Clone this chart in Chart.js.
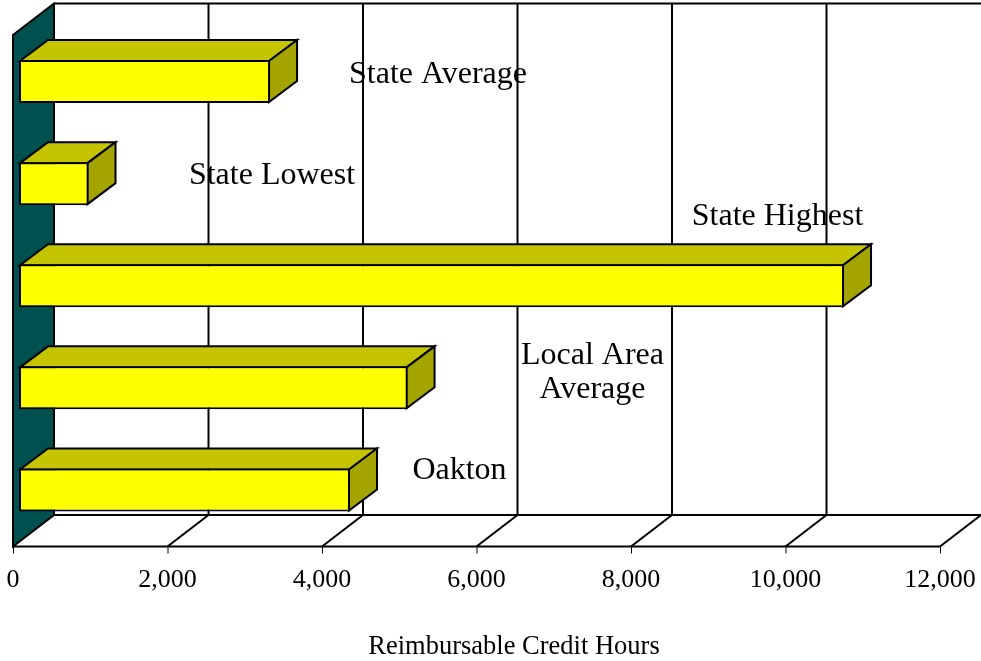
<!DOCTYPE html>
<html>
<head>
<meta charset="utf-8">
<title>Reimbursable Credit Hours</title>
<script src="https://cdn.jsdelivr.net/npm/chart.js@4"></script>
<style>
  html, body { margin: 0; padding: 0; background: #fff; overflow: hidden; }
  canvas { display: block; }
</style>
</head>
<body>
<canvas id="chart" width="981" height="661"></canvas>
<script>
// Datos, de arriba hacia abajo
var categories = ["State Average", "State Lowest", "State Highest", ["Local Area", "Average"], "Oakton"];
var creditHours = [3250, 900, 10680, 5030, 4285];
var axisMax = 12000;
var axisStep = 2000;
var axisTitle = "Reimbursable Credit Hours";

var fontName = '"Liberation Serif", "Times New Roman", serif';

// Donde va el nombre de cada barra: centro en x, linea base en y
var calloutSpots = [[438, 83], [272, 184], [777.5, 225], [592.5, 364], [459.5, 479]];

// Profundidades de la vista 3D
var barDepth = { x: 28, y: 21 };
var barInset = { x: 6, y: 5.5 };
var boxDepth = { x: 41, y: 31.5 };
var wallTop = 3.5;
var sideTop = 35;

function poly(ctx, pts, fill) {
  ctx.beginPath();
  pts.forEach(function (p, i) {
    if (i === 0) ctx.moveTo(p[0], p[1]); else ctx.lineTo(p[0], p[1]);
  });
  ctx.closePath();
  if (fill) { ctx.fillStyle = fill; ctx.fill(); }
  ctx.stroke();
}

function line(ctx, x1, y1, x2, y2) {
  ctx.beginPath();
  ctx.moveTo(x1, y1);
  ctx.lineTo(x2, y2);
  ctx.stroke();
}

var box3d = {
  id: "box3d",
  // Pared, piso, grilla y caras traseras de las barras
  beforeDatasetsDraw: function (chart) {
    var ctx = chart.ctx;
    var xs = chart.scales.x;
    var floorFront = chart.chartArea.bottom + barInset.y;
    var floorBack = floorFront - boxDepth.y;
    var x0 = xs.getPixelForValue(0) - barInset.x;
    ctx.save();
    ctx.strokeStyle = "#000";
    ctx.lineWidth = 2;
    ctx.lineJoin = "miter";

    // linea superior y linea del fondo
    line(ctx, x0 + boxDepth.x, wallTop, chart.width, wallTop);
    line(ctx, x0 + boxDepth.x, floorBack, chart.width, floorBack);
    line(ctx, x0, floorFront, xs.getPixelForValue(axisMax) - barInset.x, floorFront);

    for (var v = 0; v <= axisMax; v += axisStep) {
      var fx = xs.getPixelForValue(v) - barInset.x;
      ctx.lineWidth = 2;
      // la ultima linea de la pared queda fuera del cuadro
      if (v > 0 && v < axisMax) {
        line(ctx, fx + boxDepth.x, wallTop, fx + boxDepth.x, floorBack);
      }
      if (v > 0) {
        line(ctx, fx, floorFront, fx + boxDepth.x, floorBack);
      }
      ctx.lineWidth = 1;
      line(ctx, fx + 0.5, floorFront, fx + 0.5, floorFront + 7);
    }

    ctx.lineWidth = 2;
    poly(ctx, [
      [x0, floorFront],
      [x0, sideTop],
      [x0 + boxDepth.x, wallTop],
      [x0 + boxDepth.x, floorBack]
    ], "#005050");

    // caras de arriba y del costado
    chart.getDatasetMeta(0).data.forEach(function (bar) {
      var top = bar.y - bar.height / 2 + 1;
      var bottom = bar.y + bar.height / 2 - 1;
      var left = bar.base + 1;
      var right = bar.x - 1;
      poly(ctx, [
        [left, top],
        [left + barDepth.x, top - barDepth.y],
        [right + barDepth.x, top - barDepth.y],
        [right, top]
      ], "#C4C400");
      poly(ctx, [
        [right, top],
        [right + barDepth.x, top - barDepth.y],
        [right + barDepth.x, bottom - barDepth.y],
        [right, bottom]
      ], "#A4A400");
    });
    ctx.restore();
  },
  // Nombres de las barras y titulo del eje
  afterDatasetsDraw: function (chart) {
    var ctx = chart.ctx;
    ctx.save();
    ctx.fillStyle = "#000";
    ctx.textAlign = "center";
    ctx.textBaseline = "alphabetic";
    ctx.font = "32px " + fontName;
    categories.forEach(function (cat, i) {
      var rows = [].concat(cat);
      rows.forEach(function (row, r) {
        ctx.fillText(row, calloutSpots[i][0], calloutSpots[i][1] + r * 34);
      });
    });
    ctx.font = "26.5px " + fontName;
    ctx.fillText(axisTitle, 514, 654);
    ctx.restore();
  }
};

new Chart("chart", {
  type: "bar",
  data: {
    labels: categories,
    datasets: [{
      label: axisTitle,
      data: creditHours,
      backgroundColor: "#FFFF00",
      borderColor: "#000",
      borderWidth: 2,
      borderSkipped: false,
      categoryPercentage: 43 / 102,
      barPercentage: 1
    }]
  },
  options: {
    indexAxis: "y",
    responsive: false,
    animation: false,
    layout: { padding: { left: 19, right: 35, top: 30.5, bottom: 0 } },
    plugins: {
      legend: { display: false },
      title: { display: false },
      tooltip: { enabled: false }
    },
    scales: {
      x: {
        min: 0,
        max: axisMax,
        grid: { display: false },
        border: { display: false },
        afterFit: function (scale) {
          scale.height = 120;
          scale.paddingLeft = 0;
          scale.paddingRight = 0;
        },
        ticks: {
          stepSize: axisStep,
          autoSkip: false,
          maxRotation: 0,
          color: "#000",
          padding: 16,
          labelOffset: -6,
          font: { family: fontName, size: 26 },
          callback: function (value) {
            return value.toLocaleString("en-US");
          }
        }
      },
      y: { display: false }
    }
  },
  plugins: [box3d]
});
</script>
</body>
</html>
